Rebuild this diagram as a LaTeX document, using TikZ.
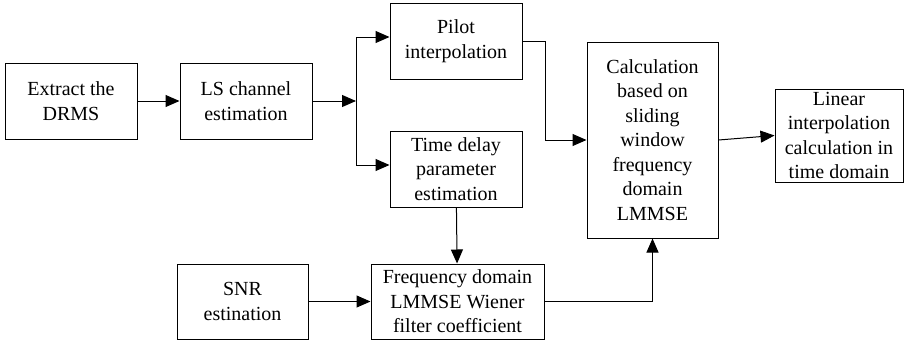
\documentclass[tikz,border=0pt]{standalone}
\usepackage{fontspec}
\setmainfont{Liberation Serif}
\usetikzlibrary{arrows.meta, positioning}

\begin{document}
\begin{tikzpicture}[
  x=1pt, y=-1pt,
  every node/.style={font=\fontsize{20}{24.5}\selectfont, align=center, inner sep=0pt},
  blk/.style={draw, line width=1pt, minimum width=132pt, minimum height=76pt},
  arr/.style={-{Triangle[length=14pt, width=12pt]}, line width=1pt}
]
  \useasboundingbox (0,0) rectangle (904,343);

  \node[blk] (extract) at (71,101)    {Extract the\\DRMS};
  \node[blk] (ls)      at (246,101)   {LS channel\\estimation};
  \node[blk] (pilot)   at (456,41)    {Pilot\\interpolation};
  \node[blk] (delay)   at (456,169)   {Time delay\\parameter\\estimation};
  \node[blk, minimum width=131pt, minimum height=75pt] (snr) at (242.5,301.5) {SNR\\estination};
  \node[blk, minimum width=173pt, minimum height=75pt] (freq) at (457.5,301.5) {Frequency domain\\LMMSE Wiener\\filter coefficient};
  \node[blk, minimum width=131pt, minimum height=196pt] (calc) at (652.5,140) {Calculation\\based on\\sliding\\window\\frequency\\domain\\LMMSE};
  \node[blk, minimum width=128pt, minimum height=93pt] (linear) at (839,135.5) {Linear\\interpolation\\calculation in\\time domain};

  \coordinate (split) at (356,101);

  \draw[arr] (extract) -- (ls);
  \draw[arr] (ls) -- (split);
  \draw[arr] (split) |- ([yshift=4pt]pilot.west);
  \draw[arr] (split) |- ([yshift=4pt]delay.west);
  \draw[arr] (pilot.east) -- ++(23,0) |- (calc.west);
  \draw[arr] (delay) -- (freq);
  \draw[arr] (snr) -- (freq);
  \draw[arr] (freq.east) -| (calc.south);
  \draw[arr] (calc.east) -- (linear.west);
\end{tikzpicture}
\end{document}
